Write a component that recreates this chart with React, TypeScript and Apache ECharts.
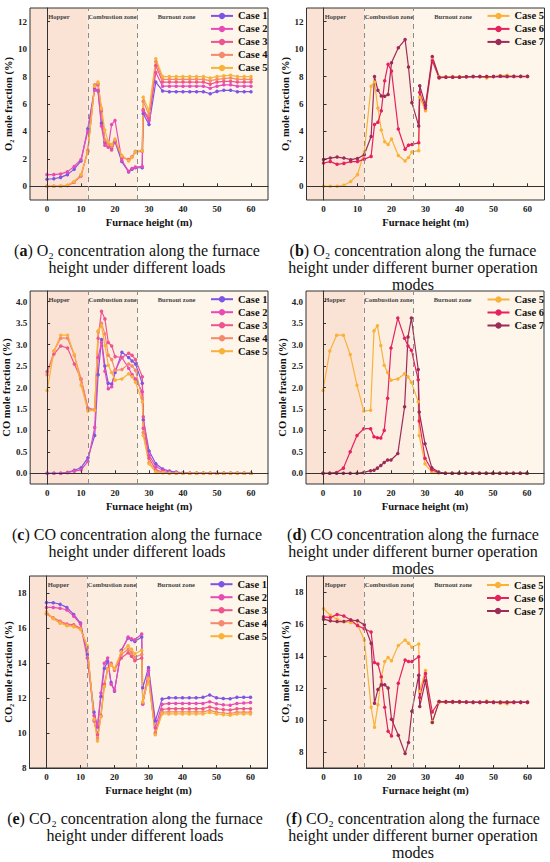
import React, { useEffect, useRef } from "react";
import * as echarts from "echarts";

// Furnace heights (m) of the measuring points
const heights = [0, 2, 4, 6, 8, 10, 12, 14, 15, 16, 17, 18, 19, 20, 22, 24, 25, 26, 28, 28.3, 30, 32, 34, 36, 38, 40, 42, 44, 46, 48, 50, 52, 54, 56, 58, 60];

const xTicks = [0, 10, 20, 30, 40, 50, 60];
const o2Ticks = [0, 2, 4, 6, 8, 10, 12];
const coTicks = [0, 0.5, 1, 1.5, 2, 2.5, 3, 3.5, 4];
const co2Ticks = [8, 10, 12, 14, 16, 18];

const caseNames = ["Case 1", "Case 2", "Case 3", "Case 4", "Case 5", "Case 6", "Case 7"];
const zoneNames = ["Hopper", "Combustion zone", "Burnout zone"];
const zoneBounds = [-5, 12, 26.5, 65];

// O2 mole fraction (%)
const o2Case1 = [0.52, 0.55, 0.65, 0.85, 1.25, 1.85, 4.2, 7.15, 6.95, 4.6, 3.2, 2.95, 2.75, 3.25, 1.8, 1.05, 1.25, 1.35, 1.35, 5.3, 4.5, 7.6, 6.95, 6.9, 6.9, 6.9, 6.9, 6.9, 6.9, 6.75, 6.92, 7.0, 7.0, 6.9, 6.9, 6.9];
const o2Case2 = [0.85, 0.85, 0.9, 1.05, 1.45, 1.95, 4.0, 7.0, 7.0, 4.4, 3.0, 2.85, 4.5, 4.8, 1.9, 1.1, 1.3, 1.4, 1.45, 5.5, 4.8, 8.3, 7.3, 7.3, 7.3, 7.3, 7.3, 7.3, 7.3, 7.15, 7.3, 7.4, 7.4, 7.3, 7.3, 7.3];
const o2Case3 = [0, 0, 0, 0.05, 0.3, 0.75, 2.6, 7.3, 7.4, 5.5, 3.3, 3.0, 2.65, 3.3, 2.1, 1.95, 2.15, 2.5, 2.55, 5.6, 4.95, 8.8, 7.6, 7.6, 7.6, 7.6, 7.6, 7.6, 7.6, 7.45, 7.6, 7.65, 7.65, 7.6, 7.6, 7.6];
const o2Case4 = [0, 0, 0, 0.06, 0.32, 0.8, 2.55, 7.4, 7.5, 5.6, 3.4, 3.05, 2.9, 3.35, 2.2, 1.9, 2.15, 2.55, 2.6, 6.2, 5.2, 9.1, 7.8, 7.8, 7.8, 7.8, 7.8, 7.8, 7.8, 7.7, 7.8, 7.85, 7.9, 7.8, 7.8, 7.8];
const o2Case5 = [0, 0, 0, 0.07, 0.35, 0.85, 2.5, 7.3, 7.6, 5.7, 4.1, 3.25, 3.05, 3.45, 2.25, 1.85, 2.1, 2.5, 2.6, 6.5, 5.5, 9.3, 8.0, 8.0, 8.0, 8.0, 8.0, 8.0, 8.0, 7.9, 8.0, 8.05, 8.1, 8.0, 8.0, 8.0];
const o2Case6 = [1.7, 1.8, 1.6, 1.67, 1.8, 1.8, 1.98, 2.18, 4.5, 4.67, 5.5, 7.7, 8.9, 8.4, 4.18, 2.7, 3.0, 3.05, 3.17, 6.85, 5.7, 9.15, 7.9, 7.95, 7.95, 7.95, 7.98, 8.0, 8.0, 8.0, 8.0, 8.02, 8.0, 8.0, 8.0, 8.0];
const o2Case7 = [1.96, 2.06, 2.13, 2.06, 1.94, 2.03, 2.3, 3.63, 8.0, 7.0, 6.58, 6.56, 6.7, 9.0, 10.1, 10.7, 8.7, 6.1, 4.4, 7.33, 5.9, 9.46, 7.95, 7.95, 7.95, 7.95, 7.98, 8.0, 8.0, 8.0, 8.0, 8.02, 8.0, 8.02, 8.02, 8.02];

// CO mole fraction (%)
const coCase1 = [0, 0, 0, 0.02, 0.07, 0.13, 0.36, 0.88, 2.3, 3.12, 2.5, 2.1, 2.08, 2.35, 2.82, 2.7, 2.62, 2.55, 2.1, 1.25, 0.52, 0.22, 0.1, 0.05, 0.03, 0.01, 0, 0, 0, 0, 0, 0, 0, 0, 0, 0];
const coCase2 = [0, 0, 0, 0.02, 0.05, 0.08, 0.28, 1.07, 2.7, 3.05, 2.38, 1.97, 2.02, 2.4, 2.7, 2.45, 2.3, 2.2, 1.9, 1.05, 0.42, 0.16, 0.07, 0.03, 0.02, 0.01, 0, 0, 0, 0, 0, 0, 0, 0, 0, 0];
const coCase3 = [2.37, 2.78, 2.97, 2.92, 2.55, 2.2, 1.52, 1.48, 3.15, 3.78, 3.6, 3.05, 2.97, 2.72, 2.7, 2.8, 2.75, 2.65, 2.25, 1.32, 0.35, 0.08, 0.03, 0.01, 0, 0, 0, 0, 0, 0, 0, 0, 0, 0, 0, 0];
const coCase4 = [2.3, 2.85, 3.15, 3.15, 2.75, 2.2, 1.5, 1.48, 3.3, 3.5, 3.25, 2.75, 2.65, 2.4, 2.42, 2.55, 2.5, 2.4, 1.75, 0.95, 0.25, 0.05, 0.02, 0, 0, 0, 0, 0, 0, 0, 0, 0, 0, 0, 0, 0];
const coCase5 = [1.93, 2.85, 3.22, 3.22, 2.77, 2.05, 1.45, 1.47, 3.32, 3.44, 2.98, 2.52, 2.35, 2.17, 2.2, 2.32, 2.25, 2.12, 1.67, 0.88, 0.22, 0.03, 0.01, 0, 0, 0, 0, 0, 0, 0, 0, 0, 0, 0, 0, 0];
const coCase6 = [0, 0, 0.02, 0.12, 0.5, 0.88, 1.04, 1.04, 0.85, 0.83, 0.82, 1.0, 1.75, 2.92, 3.62, 3.15, 2.97, 2.87, 2.18, 1.22, 0.35, 0.08, 0.02, 0, 0, 0, 0, 0, 0, 0, 0, 0, 0, 0, 0, 0];
const coCase7 = [0, 0, 0, 0, 0, 0, 0.02, 0.06, 0.07, 0.12, 0.18, 0.25, 0.31, 0.31, 0.46, 1.55, 3.18, 3.62, 2.42, 1.43, 0.69, 0.13, 0.03, 0, 0, 0, 0, 0, 0, 0, 0, 0, 0, 0, 0, 0];

// CO2 mole fraction (%)
const co2Case1 = [17.48, 17.47, 17.38, 17.2, 16.8, 16.3, 14.5, 11.2, 10.35, 12.1, 13.7, 14.1, 12.9, 12.4, 14.75, 15.45, 15.35, 15.25, 15.5, 12.6, 13.75, 10.7, 11.95, 12.02, 12.02, 12.02, 12.02, 12.02, 12.05, 12.18, 12.02, 11.98, 11.97, 12.05, 12.05, 12.05];
const co2Case2 = [17.2, 17.2, 17.15, 17.05, 16.7, 16.25, 14.3, 11.0, 10.4, 12.3, 14.0, 14.3, 12.8, 12.45, 14.7, 15.5, 15.4, 15.35, 15.68, 11.65, 13.6, 10.3, 11.65, 11.7, 11.7, 11.7, 11.7, 11.7, 11.7, 11.8, 11.68, 11.62, 11.6, 11.7, 11.72, 11.75];
const co2Case3 = [16.85, 16.6, 16.4, 16.25, 16.2, 16.0, 14.9, 10.7, 9.9, 11.0, 12.8, 13.7, 14.0, 13.6, 14.3, 14.6, 14.4, 14.15, 14.3, 11.7, 13.2, 10.0, 11.35, 11.4, 11.4, 11.4, 11.4, 11.4, 11.4, 11.5, 11.4, 11.35, 11.32, 11.4, 11.4, 11.4];
const co2Case4 = [16.82, 16.58, 16.38, 16.2, 16.15, 15.98, 14.95, 10.75, 9.7, 10.95, 12.7, 13.65, 13.95, 13.65, 14.5, 14.8, 14.6, 14.35, 14.5, 11.75, 13.15, 9.95, 11.2, 11.22, 11.22, 11.22, 11.22, 11.22, 11.22, 11.3, 11.2, 11.15, 11.12, 11.2, 11.2, 11.2];
const co2Case5 = [16.95, 16.55, 16.3, 16.15, 16.1, 15.95, 15.0, 10.8, 9.55, 10.95, 12.65, 13.65, 13.9, 13.7, 14.65, 15.0, 14.8, 14.55, 14.75, 11.8, 13.1, 9.9, 11.1, 11.1, 11.1, 11.1, 11.1, 11.1, 11.1, 11.18, 11.1, 11.05, 11.02, 11.1, 11.1, 11.1];
const co2Case6 = [16.45, 16.4, 16.6, 16.5, 16.25, 15.9, 15.7, 15.5, 13.6, 13.5, 12.7, 10.8, 9.3, 9.0, 12.3, 13.75, 13.65, 13.65, 13.95, 11.4, 12.9, 10.5, 11.15, 11.15, 11.15, 11.15, 11.12, 11.1, 11.1, 11.12, 11.1, 11.1, 11.1, 11.1, 11.1, 11.1];
const co2Case7 = [16.3, 16.2, 16.15, 16.15, 16.25, 16.2, 15.95, 14.8, 11.05, 11.9, 12.2, 12.2, 12.0, 10.05, 9.05, 7.9, 8.6, 10.55, 12.8, 10.85, 12.45, 9.85, 11.15, 11.12, 11.12, 11.12, 11.12, 11.12, 11.12, 11.12, 11.12, 11.12, 11.12, 11.12, 11.12, 11.12];

const captionLines = [
  ["a", " O\u2082 concentration along the furnace", "height under different loads"],
  ["b", " O\u2082 concentration along the furnace", "height under different burner operation", "modes"],
  ["c", " CO concentration along the furnace", "height under different loads"],
  ["d", " CO concentration along the furnace", "height under different burner operation", "modes"],
  ["e", " CO\u2082 concentration along the furnace", "height under different loads"],
  ["f", " CO\u2082 concentration along the furnace", "height under different burner operation", "modes"],
];

const COLORS: Record<string, string> = {
  "Case 1": "#7d55e6",
  "Case 2": "#e94bb6",
  "Case 3": "#f0548e",
  "Case 4": "#f5896b",
  "Case 5": "#f8b23a",
  "Case 6": "#e6215f",
  "Case 7": "#9c2b58",
};

const SERIF = "'Liberation Serif', 'Times New Roman', serif";

export default function App() {
  const ref = useRef<HTMLDivElement>(null);

  useEffect(() => {
    document.body.style.margin = "0";
    const chart = echarts.init(ref.current!, undefined, { renderer: "svg" });

    const panels = [
      { grid: { left: 30, top: 8, width: 238, height: 192 }, yMin: -1, yMax: 13, ticks: o2Ticks, dec: 0, yName: "O\u2082 mole fraction (%)", cases: [o2Case1, o2Case2, o2Case3, o2Case4, o2Case5], names: caseNames.slice(0, 5), legend: { left: 210, top: 10.4 }, cx: 137, cy: 250 },
      { grid: { left: 306.5, top: 8, width: 238, height: 192 }, yMin: -1, yMax: 13, ticks: o2Ticks, dec: 0, yName: "O\u2082 mole fraction (%)", cases: [o2Case5, o2Case6, o2Case7], names: caseNames.slice(4), legend: { left: 486.5, top: 10.4 }, cx: 413, cy: 250 },
      { grid: { left: 30, top: 291, width: 238, height: 193 }, yMin: -0.25, yMax: 4.25, ticks: coTicks, dec: 1, yName: "CO mole fraction (%)", cases: [coCase1, coCase2, coCase3, coCase4, coCase5], names: caseNames.slice(0, 5), legend: { left: 210, top: 293.7 }, cx: 137, cy: 534 },
      { grid: { left: 306, top: 291, width: 238, height: 193 }, yMin: -0.25, yMax: 4.25, ticks: coTicks, dec: 1, yName: "CO mole fraction (%)", cases: [coCase5, coCase6, coCase7], names: caseNames.slice(4), legend: { left: 486.5, top: 294 }, cx: 413, cy: 534 },
      { grid: { left: 29.5, top: 576, width: 238, height: 192 }, yMin: 8, yMax: 19, ticks: co2Ticks, dec: 0, yName: "CO\u2082 mole fraction (%)", cases: [co2Case1, co2Case2, co2Case3, co2Case4, co2Case5], names: caseNames.slice(0, 5), legend: { left: 209.5, top: 578.7 }, cx: 135, cy: 818 },
      { grid: { left: 306.5, top: 576, width: 238, height: 192 }, yMin: 7, yMax: 19, ticks: co2Ticks, dec: 0, yName: "CO\u2082 mole fraction (%)", cases: [co2Case5, co2Case6, co2Case7], names: caseNames.slice(4), legend: { left: 486, top: 579.5 }, cx: 413, cy: 818 },
    ];

    const zoneColors = ["#fae2d4", "#fcefe2", "#fef6ea"];

    const series: any[] = [];
    panels.forEach((p, i) => {
      series.push({
        type: "line",
        xAxisIndex: i,
        yAxisIndex: i,
        data: [],
        silent: true,
        z: 1,
        markArea: {
          silent: true,
          label: { show: true, position: "insideTop", distance: 4.5, fontSize: 6.5, fontWeight: "bold", color: "#444", fontFamily: SERIF },
          data: zoneNames.map((n, k) => [
            { name: n, xAxis: zoneBounds[k], itemStyle: { color: zoneColors[k] }, label: k === 2 ? { offset: [-26, 0] } : {} },
            { xAxis: zoneBounds[k + 1] },
          ]),
        },
        markLine: {
          silent: true,
          symbol: "none",
          label: { show: false },
          lineStyle: { type: [5, 4], color: "#8c8c8c", width: 1 },
          data: [{ xAxis: zoneBounds[1] }, { xAxis: zoneBounds[2] }],
        },
      });
      p.cases.forEach((vals, k) => {
        const name = p.names[k];
        series.push({
          type: "line",
          name,
          xAxisIndex: i,
          yAxisIndex: i,
          data: heights.map((h, j) => [h, vals[j]]),
          symbol: "circle",
          symbolSize: 3.5,
          lineStyle: { width: 1.2, color: COLORS[name] },
          itemStyle: { color: COLORS[name] },
          z: 3,
        });
      });
    });

    const graphic: any[] = [];
    panels.forEach((p, i) => {
      const lines = captionLines[i];
      graphic.push({
        type: "text",
        x: p.cx,
        y: p.cy,
        style: {
          text: "({b|" + lines[0] + "})" + lines[1],
          textAlign: "center",
          textVerticalAlign: "middle",
          fontSize: 16,
          fontFamily: SERIF,
          fill: "#111",
          rich: { b: { fontWeight: "bold", fontSize: 16, fontFamily: SERIF, fill: "#111", color: "#111" } },
        },
      });
      lines.slice(2).forEach((t, k) => {
        graphic.push({
          type: "text",
          x: p.cx,
          y: p.cy + 17 * (k + 1),
          style: { text: t, textAlign: "center", textVerticalAlign: "middle", fontSize: 16, fontFamily: SERIF, fill: "#111" },
        });
      });
    });

    const option: any = {
      animation: false,
      textStyle: { fontFamily: SERIF },
      grid: panels.map((p) => ({ ...p.grid, show: true, borderColor: "#333", borderWidth: 1, backgroundColor: "transparent", z: 4 })),
      xAxis: panels.map((p, i) => ({
        gridIndex: i,
        type: "value",
        min: zoneBounds[0],
        max: zoneBounds[3],
        name: "Furnace height (m)",
        nameLocation: "middle",
        nameGap: 17,
        nameTextStyle: { fontWeight: "bold", fontSize: 10.5, color: "#111", fontFamily: SERIF },
        axisLine: { show: true, lineStyle: { color: "#333" } },
        axisTick: { show: true, inside: true, length: 3, customValues: xTicks, lineStyle: { color: "#333" } },
        axisLabel: { customValues: xTicks, margin: 4, fontSize: 9, fontWeight: "bold", color: "#222", fontFamily: SERIF },
        splitLine: { show: false },
        z: 4,
      })),
      yAxis: panels.map((p, i) => ({
        gridIndex: i,
        type: "value",
        min: p.yMin,
        max: p.yMax,
        name: p.yName,
        nameLocation: "middle",
        nameGap: 15,
        nameTextStyle: { fontWeight: "bold", fontSize: 10.5, color: "#111", fontFamily: SERIF },
        axisLine: { show: true, lineStyle: { color: "#333" } },
        axisTick: { show: true, inside: true, length: 3, customValues: p.ticks, lineStyle: { color: "#333" } },
        axisLabel: {
          customValues: p.ticks,
          margin: 3,
          fontSize: 9,
          fontWeight: "bold",
          color: "#222",
          fontFamily: SERIF,
          formatter: (v: number) => v.toFixed(p.dec),
        },
        splitLine: { show: false },
        z: 4,
      })),
      legend: panels.map((p) => ({
        data: p.names,
        orient: "vertical",
        left: p.legend.left,
        top: p.legend.top,
        padding: 0,
        itemWidth: 22,
        itemHeight: 8,
        itemGap: 2,
        selectedMode: false,
        textStyle: { fontSize: 10.5, lineHeight: 10.6, fontWeight: "bold", color: "#111", fontFamily: SERIF },
      })),
      series,
      graphic,
    };

    chart.setOption(option);
    return () => chart.dispose();
  }, []);

  return <div ref={ref} style={{ width: 550, height: 862 }} />;
}
